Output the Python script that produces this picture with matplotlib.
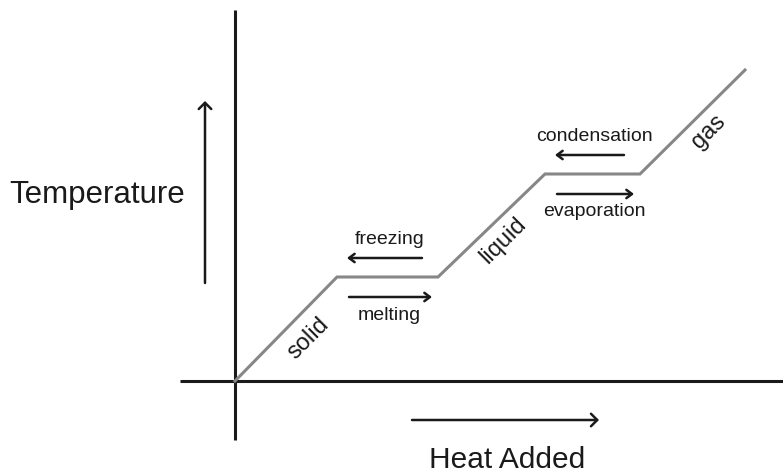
"""Heating curve: temperature against heat added, with phase labels."""

import matplotlib.pyplot as plt

# Heating curve corners (heat added, temperature) in arbitrary units
heat = [0.0, 1.02, 2.03, 3.10, 4.05, 5.10]
temperature = [0.0, 1.04, 1.04, 2.07, 2.07, 3.11]

phases = ["solid", "liquid", "gas"]
changes_left = ["freezing", "condensation"]
changes_right = ["melting", "evaporation"]

plt.rcParams["font.family"] = ["Liberation Sans", "DejaVu Sans"]
fig = plt.figure(figsize=(7.83, 4.74), dpi=100)
axis = fig.add_axes([0, 0, 1, 1])
axis.set_xlim(-2.35, 5.48)
axis.set_ylim(-0.93, 3.81)
axis.axis("off")

ink = "#1a1a1a"

# Axes drawn as plain lines
axis.plot([0, 0], [-0.59, 3.71], color=ink, lw=2.2, solid_capstyle="butt")
axis.plot([-0.55, 5.48], [0, 0], color=ink, lw=2.2, solid_capstyle="butt")

# The curve itself
axis.plot(heat, temperature, color="#878787", lw=2.2, solid_joinstyle="miter")


def arrow(start, end, lw, style):
    axis.annotate(
        "",
        xy=end,
        xytext=start,
        arrowprops=dict(
            arrowstyle=style, color=ink, lw=lw, shrinkA=0, shrinkB=0
        ),
    )


big = "->,head_length=0.45,head_width=0.45"
small = "->,head_length=0.4,head_width=0.3"

# Axis direction arrows and titles
arrow((-0.30, 0.98), (-0.30, 2.80), 1.8, big)
axis.text(-1.38, 1.86, "Temperature", fontsize=22.5, color=ink,
          ha="center", va="center")
arrow((1.77, -0.39), (3.64, -0.39), 1.8, big)
axis.text(2.72, -0.865, "Heat Added", fontsize=21.5, color=ink,
          ha="center", va="baseline")

# Phase labels along the sloped parts, just below the line
along = [0.72, 0.61, 0.65]
drop = [0.32, 0.26, 0.25]
for i, name in enumerate(phases):
    x0, x1 = heat[2 * i], heat[2 * i + 1]
    y0, y1 = temperature[2 * i], temperature[2 * i + 1]
    xm = x0 + along[i] * (x1 - x0)
    ym = y0 + along[i] * (y1 - y0) - drop[i]
    axis.text(xm, ym, name, fontsize=17, color=ink, rotation=45,
              ha="center", va="center", rotation_mode="anchor")

# Phase change arrows on the plateaus
for i in range(2):
    xa, xb = heat[2 * i + 1], heat[2 * i + 2]
    level = temperature[2 * i + 1]
    xm = (xa + xb) / 2
    arrow((xb - 0.16, level + 0.19), (xa + 0.10, level + 0.19), 1.8, small)
    axis.text(xm + 0.02, level + 0.38, changes_left[i], fontsize=14,
              color=ink, ha="center", va="center")
    arrow((xa + 0.12, level - 0.20), (xb - 0.06, level - 0.20), 1.8, small)
    axis.text(xm + 0.02, level - 0.38, changes_right[i], fontsize=14,
              color=ink, ha="center", va="center")

fig.savefig("out.png", dpi=100, facecolor="white")
